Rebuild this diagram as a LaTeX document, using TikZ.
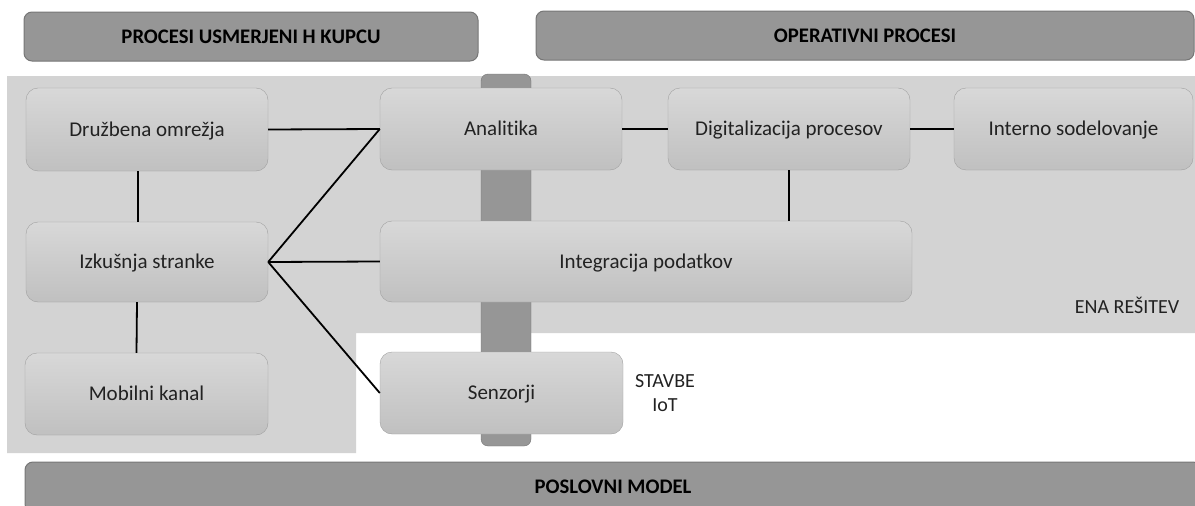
\documentclass[tikz,border=0pt]{standalone}
\usepackage{fontspec}
\setmainfont{Carlito}[Ligatures = NoCommon]
\usepackage{xcolor}
\usepackage{tikz}

\definecolor{bgray}{RGB}{211,211,211}
\definecolor{dgray}{RGB}{150,150,150}
\definecolor{dline}{RGB}{118,118,118}
\definecolor{boxtop}{RGB}{216,216,216}
\definecolor{boxbot}{RGB}{192,192,192}
\definecolor{boxline}{RGB}{160,160,160}
\definecolor{txt}{RGB}{34,34,34}

\tikzset{
    procbox/.style = {draw = boxline, top color = boxtop, bottom color = boxbot,
        rounded corners = 12pt, text = txt, inner sep = 0pt,
        font = \fontsize{21}{25}\selectfont, text height = 13.5pt, text depth = 0pt},
    headbar/.style = {draw = dline, fill = dgray, rounded corners = 8pt, line width = 1pt,
        text = black, inner sep = 0pt,
        font = \fontsize{20.7}{25}\selectfont\bfseries, text height = 13pt, text depth = 0pt},
    note/.style = {text = txt, inner sep = 0pt,
        font = \fontsize{20}{24}\selectfont, text height = 12.5pt, text depth = 0pt},
    link/.style = {line width = 1.8pt, black}
}

\begin{document}
\begin{tikzpicture}[x = 1pt, y = -1pt]
        \useasboundingbox (0, 0) rectangle (1195, 506);

        \fill [bgray] (7, 76) -- (1195, 76) -- (1195, 333) -- (356, 333)
            -- (356, 453) -- (7, 453) -- cycle;
        \filldraw [draw = dline, fill = dgray, rounded corners = 7pt] (481, 74) rectangle (531, 446);

        \node [headbar, minimum width = 454pt, minimum height = 49pt] (kupcu) at (251, 36.5)
            {PROCESI USMERJENI H KUPCU};
        \node [headbar, minimum width = 658pt, minimum height = 49pt] (operativni) at (865, 35.5)
            {OPERATIVNI PROCESI};
        \node [headbar, minimum width = 1176pt, minimum height = 50pt] (poslovni) at (613, 487)
            {POSLOVNI MODEL};

        \node [procbox, minimum width = 242pt, minimum height = 83pt] (druzbena) at (147, 129.5)
            {Družbena omrežja};
        \node [procbox, minimum width = 242pt, minimum height = 80pt] (izkusnja) at (147, 262)
            {Izkušnja stranke};
        \node [procbox, minimum width = 243pt, minimum height = 82pt] (mobilni) at (146.5, 394)
            {Mobilni kanal};
        \node [procbox, minimum width = 242pt, minimum height = 82pt] (analitika) at (501, 129)
            {Analitika};
        \node [procbox, minimum width = 242pt, minimum height = 82pt] (digital) at (789, 129)
            {Digitalizacija procesov};
        \node [procbox, minimum width = 239pt, minimum height = 82pt] (interno) at (1073.5, 129)
            {Interno sodelovanje};
        \node [procbox, minimum width = 532pt, minimum height = 81pt] (integracija) at (646, 261.5)
            {Integracija podatkov};
        \node [procbox, minimum width = 243pt, minimum height = 82pt] (senzorji) at (501.5, 393)
            {Senzorji};

        \draw [link] (druzbena.east) -- (analitika.west);
        \draw [link] (analitika.east) -- (digital.west);
        \draw [link] (digital.east) -- (interno.west);
        \draw [link] (digital.south) -- (integracija.north -| digital.south);
        \draw [link] ([xshift = -9pt] druzbena.south) -- ([xshift = -9pt] izkusnja.north);
        \draw [link] ([xshift = -10pt] izkusnja.south) -- ([xshift = -10pt] mobilni.north);
        \draw [link] (izkusnja.east) -- (analitika.west);
        \draw [link] (izkusnja.east) -- (integracija.west);
        \draw [link] (izkusnja.east) -- (senzorji.west);

        \node [note] (resitev) at (1127, 307) {ENA REŠITEV};
        \node [note] (stavbe) at (665, 381) {STAVBE};
        \node [note] (iot) at (665, 405) {IoT};
\end{tikzpicture}
\end{document}
